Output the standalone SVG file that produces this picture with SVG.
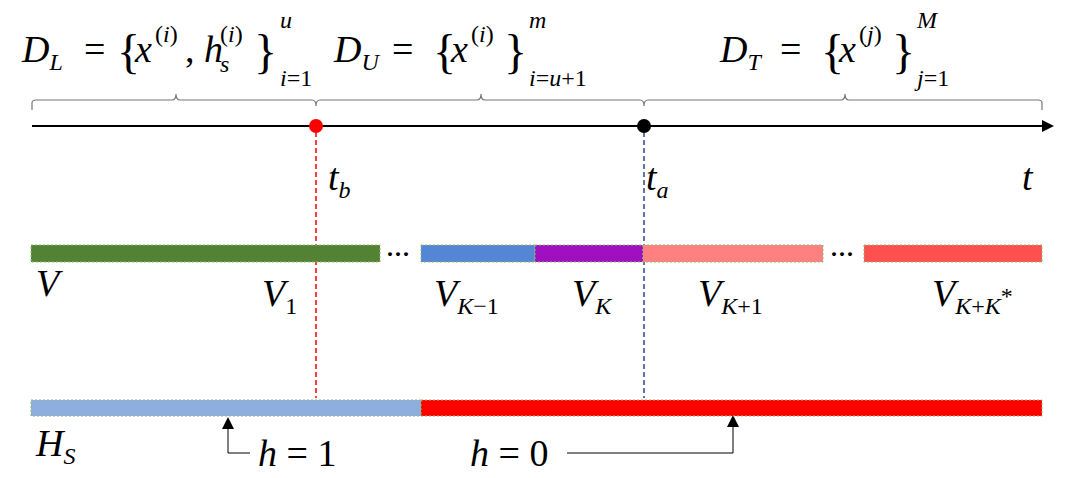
<svg xmlns="http://www.w3.org/2000/svg" width="1066" height="478" viewBox="0 0 1066 478">
<style>
text{font-family:"Liberation Serif","DejaVu Serif",serif;font-style:italic;fill:#000}
.m{font-size:38px}.s{font-size:24px}.n{font-style:normal}.b{font-size:48px;font-style:normal}
.bar{stroke:#8fbf6f;stroke-width:1;stroke-dasharray:2 2}
.br{fill:none;stroke:#777;stroke-width:1.2}
</style>
<defs>
<marker id="ar" markerWidth="12" markerHeight="12" refX="10" refY="6" orient="auto" markerUnits="userSpaceOnUse" viewBox="0 0 12 12"><path d="M0,0L12,6L0,12z" fill="#000"/></marker>
</defs>
<g id="formulas">
<text class="m" x="22" y="62">D<tspan class="s" dy="8">L</tspan></text><text class="m n" x="84" y="62">=</text>
<text class="b" x="117" y="68">{</text>
<text class="m" x="135" y="62">x</text><text class="s" x="155" y="42"><tspan class="n">(</tspan>i<tspan class="n">)</tspan></text>
<text class="m" x="185" y="62"><tspan class="n">,</tspan> h</text><text class="s" x="220" y="42"><tspan class="n">(</tspan>i<tspan class="n">)</tspan></text><text class="s" x="220" y="72">s</text>
<text class="b" x="254" y="68">}</text><text class="s" x="280" y="28">u</text><text class="s" x="280" y="86">i<tspan class="n">=1</tspan></text>
<text class="m" x="334" y="62">D<tspan class="s" dy="8">U</tspan></text><text class="m n" x="392" y="62">=</text>
<text class="b" x="433" y="68">{</text>
<text class="m" x="451" y="62">x</text><text class="s" x="471" y="42"><tspan class="n">(</tspan>i<tspan class="n">)</tspan></text>
<text class="b" x="504" y="68">}</text><text class="s" x="529" y="28">m</text><text class="s" x="529" y="86">i<tspan class="n">=</tspan>u<tspan class="n">+1</tspan></text>
<text class="m" x="720" y="62">D<tspan class="s" dy="8">T</tspan></text><text class="m n" x="780" y="62">=</text>
<text class="b" x="821" y="68">{</text>
<text class="m" x="839" y="62">x</text><text class="s" x="859" y="42"><tspan class="n">(</tspan>j<tspan class="n">)</tspan></text>
<text class="b" x="892" y="68">}</text><text class="s" x="917" y="28">M</text><text class="s" x="917" y="86">j<tspan class="n">=1</tspan></text>
</g>
<g id="braces">
<path class="br" d="M32,110V103Q32,100 36,100H172Q176,100 176,94Q176,100 180,100H312Q316,100 316,106Q316,100 320,100H477Q481,100 481,94Q481,100 485,100H640Q644,100 644,106Q644,100 648,100H841Q845,100 845,94Q845,100 849,100H1038Q1042,100 1042,103V110"/>
</g>
<g id="connectors">
<line x1="32" y1="126" x2="1052" y2="126" stroke="#000" stroke-width="2" marker-end="url(#ar)"/>
<line x1="316" y1="132" x2="316" y2="398" stroke="#e00" stroke-width="1.5" stroke-dasharray="5 3"/>
<line x1="644" y1="132" x2="644" y2="398" stroke="#2a4a8a" stroke-width="1.5" stroke-dasharray="5 3"/>
<path d="M250,453H228V419" fill="none" stroke="#000" stroke-width="1" marker-end="url(#ar)"/>
<path d="M567,453H733V417" fill="none" stroke="#000" stroke-width="1" marker-end="url(#ar)"/>
</g>
<g id="tb"><circle cx="316" cy="126" r="7" fill="#f00"/><text class="m" x="328" y="190">t<tspan class="s" dy="8">b</tspan></text></g>
<g id="ta"><circle cx="644" cy="126" r="7" fill="#000"/><text class="m" x="646" y="190">t<tspan class="s" dy="8">a</tspan></text></g>
<g id="t"><text class="m" x="1022" y="190">t</text></g>
<g id="vbars">
<rect class="bar" x="31" y="245" width="349" height="17" fill="#548235"/>
<text x="386" y="262" font-size="24" class="n" font-weight="bold">···</text>
<rect class="bar" x="421" y="245" width="114" height="17" fill="#5585d5"/>
<rect class="bar" x="535" y="245" width="108" height="17" fill="#a010c0"/>
<rect class="bar" x="643" y="245" width="180" height="17" fill="#ff8080"/>
<text x="830" y="262" font-size="24" class="n" font-weight="bold">···</text>
<rect class="bar" x="864" y="245" width="178" height="17" fill="#ff5050"/>
<text class="m" x="36" y="296">V</text>
<text class="m" x="262" y="306">V<tspan class="s n" dy="8">1</tspan></text>
<text class="m" x="434" y="306">V<tspan class="s" dy="8">K</tspan><tspan class="s n">−1</tspan></text>
<text class="m" x="572" y="306">V<tspan class="s" dy="8">K</tspan></text>
<text class="m" x="698" y="306">V<tspan class="s" dy="8">K</tspan><tspan class="s n">+1</tspan></text>
<text class="m" x="932" y="306">V<tspan class="s" dy="8">K</tspan><tspan class="s n">+</tspan><tspan class="s">K</tspan><tspan class="s n" font-size="14" dy="-10">*</tspan></text>
</g>
<g id="hbars">
<rect class="bar" x="31" y="400" width="390" height="16" fill="#8eaee0"/>
<rect class="bar" x="421" y="400" width="621" height="16" fill="#ff0000"/>
<text class="m" x="36" y="456">H<tspan class="s" dy="8">S</tspan></text>
<text class="m" x="258" y="466">h<tspan class="n"> = 1</tspan></text>
<text class="m" x="470" y="466">h<tspan class="n"> = 0</tspan></text>
</g>
</svg>
